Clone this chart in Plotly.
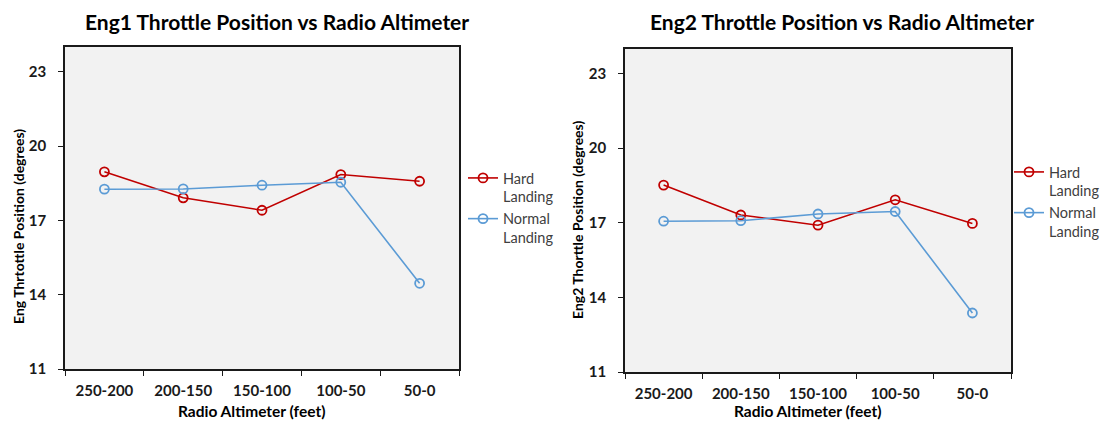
import plotly.graph_objects as go

categories = ["250-200", "200-150", "150-100", "100-50", "50-0"]
eng1_hard = [18.96, 17.91, 17.41, 18.85, 18.58]
eng1_normal = [18.26, 18.27, 18.42, 18.54, 14.46]
eng2_hard = [18.51, 17.31, 16.90, 17.92, 16.97]
eng2_normal = [17.06, 17.08, 17.35, 17.45, 13.37]
y_ticks = [11, 14, 17, 20, 23]

W, H = 1105, 421
RED = "#c00000"
BLUE = "#5b9bd5"
FONT = "Lato"

def px(x):
    return x / W

def py(y):
    return 1 - y / H

fig = go.Figure()

def add_series(y, name, color, xa, ya, legend):
    fig.add_trace(go.Scatter(
        x=categories, y=y, name=name, mode="lines+markers",
        line=dict(color=color, width=1.6),
        marker=dict(symbol="circle-open", size=9, color=color, line=dict(width=1.8, color=color)),
        xaxis=xa, yaxis=ya, legend=legend, showlegend=True,
    ))

add_series(eng1_hard, "Hard<br>Landing", RED, "x", "y", "legend")
add_series(eng1_normal, "Normal<br>Landing", BLUE, "x", "y", "legend")
add_series(eng2_hard, "Hard<br>Landing", RED, "x2", "y2", "legend2")
add_series(eng2_normal, "Normal<br>Landing", BLUE, "x2", "y2", "legend2")

xcommon = dict(
    type="category", showline=True, linecolor="#1a1a1a", linewidth=1.5, mirror=True,
    ticks="outside", ticklen=5, tickwidth=1.2, tickcolor="#1a1a1a", tickson="boundaries",
    showgrid=False, zeroline=False, range=[-0.5, 4.5], automargin=False,
    tickfont=dict(family=FONT, size=15, color="#1a1a1a", weight="bold"),
    ticklabelstandoff=7,
)
ycommon = dict(
    showline=True, linecolor="#1a1a1a", linewidth=1.5, mirror=True,
    ticks="outside", ticklen=5, tickwidth=1.2, tickcolor="#1a1a1a",
    showgrid=False, zeroline=False, range=[11, 24], tickvals=y_ticks, automargin=False,
    tickfont=dict(family=FONT, size=15, color="#1a1a1a", weight="bold"),
    ticklabelstandoff=9,
)

def ann(text, x, y, size, angle=0):
    return dict(text=text, x=px(x), y=py(y), xref="paper", yref="paper",
                xanchor="center", yanchor="middle", showarrow=False, textangle=angle,
                font=dict(family=FONT, size=size, color="#000", weight="bold"))

legend_common = dict(xanchor="left", yanchor="top",
                     font=dict(family=FONT, size=14.5, color="#404040"),
                     bgcolor="rgba(0,0,0,0)", itemwidth=30, valign="top", tracegroupgap=6)

fig.update_layout(
    width=W, height=H,
    margin=dict(l=0, r=0, t=0, b=0),
    paper_bgcolor="white",
    plot_bgcolor="#f2f2f2",
    xaxis=dict(xcommon, domain=[px(65), px(459)], anchor="y"),
    yaxis=dict(ycommon, domain=[py(369), py(47)], anchor="x"),
    xaxis2=dict(xcommon, domain=[px(625), px(1011)], anchor="y2"),
    yaxis2=dict(ycommon, domain=[py(372), py(48.5)], anchor="x2"),
    legend=dict(legend_common, x=px(463), y=py(162)),
    legend2=dict(legend_common, x=px(1009), y=py(156)),
    annotations=[
        ann("Eng1 Throttle Position vs Radio Altimeter", 277, 22, 21),
        ann("Eng2 Throttle Position vs Radio Altimeter", 842, 22, 21),
        ann("Radio Altimeter (feet)", 251, 411, 15.5),
        ann("Radio Altimeter (feet)", 807, 411, 15.5),
        ann("Eng Thrtottle Position (degrees)", 18, 227, 14, -90),
        ann("Eng2 Thorttle Position (degrees)", 578, 220, 14, -90),
    ],
)

fig.write_html("out.html")
